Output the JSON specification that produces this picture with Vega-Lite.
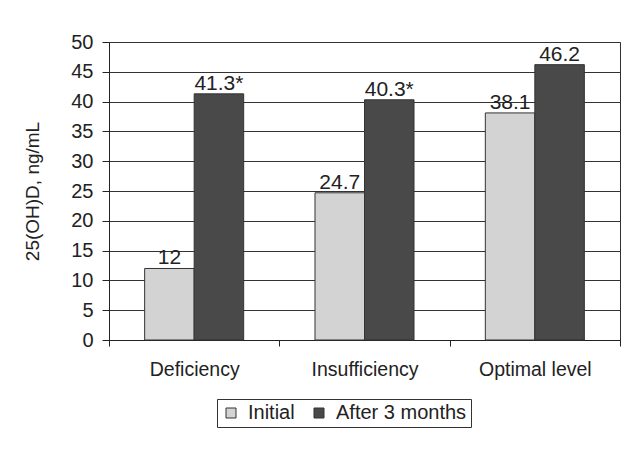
{
  "$schema": "https://vega.github.io/schema/vega-lite/v6.json",
  "autosize": {"type": "none"},
  "width": 511,
  "height": 298,
  "padding": {"left": 109, "top": 42, "right": 5, "bottom": 115},
  "background": "white",
  "data": {
    "values": [
      {"category": "Deficiency", "period": "Initial", "value": 12, "label": "12"},
      {"category": "Deficiency", "period": "After 3 months", "value": 41.3, "label": "41.3*"},
      {"category": "Insufficiency", "period": "Initial", "value": 24.7, "label": "24.7"},
      {"category": "Insufficiency", "period": "After 3 months", "value": 40.3, "label": "40.3*"},
      {"category": "Optimal level", "period": "Initial", "value": 38.1, "label": "38.1"},
      {"category": "Optimal level", "period": "After 3 months", "value": 46.2, "label": "46.2"}
    ]
  },
  "encoding": {
    "x": {
      "field": "category",
      "type": "nominal",
      "sort": ["Deficiency", "Insufficiency", "Optimal level"],
      "scale": {"paddingInner": 0, "paddingOuter": 0},
      "axis": {
        "title": null,
        "labelAngle": 0,
        "labelFontSize": 19.5,
        "labelColor": "#222",
        "labelPadding": 14,
        "tickBand": "extent",
        "tickSize": 6,
        "tickColor": "#222",
        "domainColor": "#222",
        "grid": false
      }
    },
    "xOffset": {
      "field": "period",
      "sort": ["Initial", "After 3 months"],
      "scale": {"paddingOuter": 0.72, "paddingInner": 0}
    },
    "y": {
      "field": "value",
      "type": "quantitative",
      "scale": {"domain": [0, 50], "nice": false},
      "axis": {
        "title": "25(OH)D, ng/mL",
        "titleFontSize": 19,
        "titleFontWeight": "normal",
        "titleColor": "#222",
        "titlePadding": 28,
        "values": [0, 5, 10, 15, 20, 25, 30, 35, 40, 45, 50],
        "labelFontSize": 20,
        "labelColor": "#222",
        "labelPadding": 9,
        "tickSize": 7,
        "tickColor": "#222",
        "domainColor": "#222",
        "grid": true,
        "gridColor": "#333",
        "gridWidth": 1
      }
    }
  },
  "layer": [
    {
      "mark": {"type": "bar", "stroke": "#333", "strokeWidth": 1},
      "encoding": {
        "color": {
          "field": "period",
          "type": "nominal",
          "scale": {"domain": ["Initial", "After 3 months"], "range": ["#d3d3d3", "#494949"]},
          "legend": {
            "title": null,
            "orient": "none",
            "legendX": 108,
            "legendY": 357,
            "direction": "horizontal",
            "strokeColor": "#333",
            "padding": 4,
            "symbolType": "square",
            "symbolSize": 100,
            "symbolStrokeColor": "#333",
            "symbolStrokeWidth": 1,
            "labelFontSize": 20,
            "labelColor": "#222",
            "labelOffset": 7,
            "columnPadding": 14
          }
        }
      }
    },
    {
      "mark": {"type": "text", "baseline": "alphabetic", "dy": -4, "fontSize": 21, "color": "#222"},
      "encoding": {"text": {"field": "label"}}
    }
  ],
  "config": {"font": "Liberation Sans", "view": {"stroke": "#333"}}
}
